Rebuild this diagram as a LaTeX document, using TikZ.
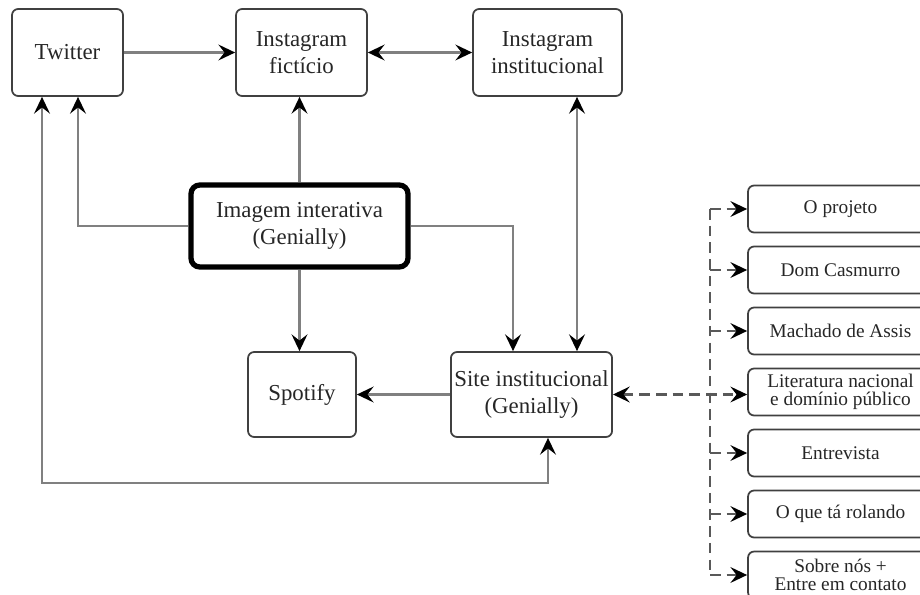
\documentclass[tikz,border=0pt]{standalone}
\usepackage{fontspec}
\setmainfont{Liberation Serif}
\usetikzlibrary{arrows.meta}
\usetikzlibrary{positioning}
\tikzset{hd/.tip = {Stealth[black, length=9.5pt, width=9pt, inset=3.5pt]},
         box/.style = {draw=black!75, line width=1pt, rounded corners=3.5pt,
                       align=center, text=black!85, inner sep=2pt,
                       font=\fontsize{13}{15.5}\selectfont},
         mainbox/.style = {box, draw=black, line width=3pt, rounded corners=5pt},
         pagebox/.style = {box, minimum width=3.7cm, minimum height=0.94cm,
                           font=\fontsize{11}{10}\selectfont},
         link/.style = {draw=black!50, line width=1.4pt},
         dlink/.style = {draw=black!65, line width=1.3pt,
                         dash pattern=on 6pt off 3.5pt}}

\begin{document}
\begin{tikzpicture}[x=0.02cm, y=-0.02cm]
      \useasboundingbox (0,0) rectangle (920,595);

      \node [box, minimum width=2.22cm, minimum height=1.74cm] (twitter) at (67.5,52.5) {Twitter};
      \node [box, minimum width=2.62cm, minimum height=1.74cm] (instaf) at (301.5,52.5) {Instagram\\fictício};
      \node [box, minimum width=2.98cm, minimum height=1.74cm] (instai) at (547.5,52.5) {Instagram\\institucional};
      \node [mainbox, minimum width=4.34cm, minimum height=1.64cm] (imagem) at (299.5,226) {Imagem interativa\\(Genially)};
      \node [box, minimum width=2.16cm, minimum height=1.70cm] (spotify) at (302,394.5) {Spotify};
      \node [box, minimum width=3.22cm, minimum height=1.70cm] (site) at (531.5,394.5) {Site institucional\\(Genially)};

      \foreach \n/\t in {1/{O projeto}, 2/{Dom Casmurro}, 3/{Machado de Assis},
                         4/{Literatura nacional\\e domínio público}, 5/{Entrevista},
                         6/{O que tá rolando}, 7/{Sobre nós +\\Entre em contato}} {
        \node [pagebox] (p\n) at (840.5, {209+61*(\n-1)}) {\t};
      }

      \coordinate (bus) at (710,0);
      \coordinate (loop) at (300,483);

      \draw [link, -hd] (twitter) -- (instaf);
      \draw [link, hd-hd] (instaf) -- (instai);
      \draw [link, -hd] (imagem.north) -- (imagem.north |- instaf.south);
      \draw [link, -hd] (imagem.west) -| ([xshift=0.21cm]twitter.south);
      \draw [link, -hd] (imagem.south) -- (imagem.south |- spotify.north);
      \draw [link, -hd] (imagem.east) -| ([xshift=-0.37cm]site.north);
      \draw [link, hd-hd] ([xshift=0.59cm]instai.south) -- ([xshift=0.59cm]instai.south |- site.north);
      \draw [link, -hd] (site) -- (spotify);
      \draw [link, hd-hd] ([xshift=-0.51cm]twitter.south) |- (loop) -| ([xshift=0.33cm]site.south);

      \draw [dlink, hd-hd] (site.east) -- (site.east -| p4.west);
      \draw [dlink] (p1.west -| bus) -- (p7.west -| bus);
      \foreach \n in {1,2,3,5,6,7} {
        \draw [dlink, -hd] (p\n.west -| bus) -- (p\n.west);
      }
    \end{tikzpicture}
\end{document}
